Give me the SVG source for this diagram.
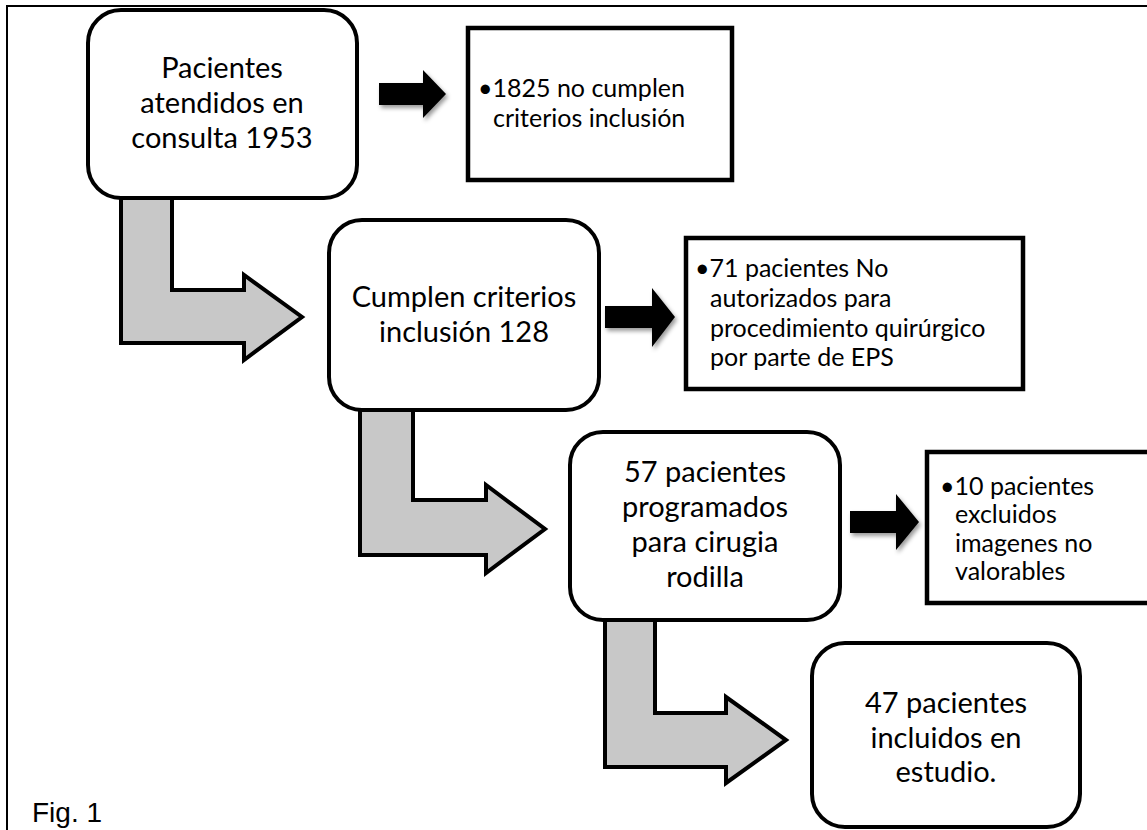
<svg xmlns="http://www.w3.org/2000/svg" width="1147" height="830" viewBox="0 0 1147 830">
<defs>
<style>
.frame{fill:none;stroke:#000;stroke-width:2}
.rbox{fill:#fff;stroke:#000;stroke-width:4}
.sbox{fill:#fff;stroke:#000;stroke-width:4.5}
.gray{fill:#c8c8c8;stroke:#000;stroke-width:4;stroke-linejoin:miter}
.blk{fill:#000;filter:url(#sh)}
.main{font-family:Lato,"Liberation Sans",sans-serif;font-size:29px;fill:#000;text-anchor:middle}
.small{font-family:Lato,"Liberation Sans",sans-serif;font-size:25px;fill:#000}
.cap{font-family:"Liberation Sans",Arial,sans-serif;font-size:28px;fill:#000}
</style>
<filter id="sh" x="-20%" y="-20%" width="150%" height="150%">
<feDropShadow dx="2" dy="3" stdDeviation="2" flood-color="#000" flood-opacity="0.4"/>
</filter>
</defs>
<rect width="1147" height="830" fill="#fff"/>
<path class="frame" d="M7,830 L7,6 L1147,6"/>

<g id="connectors">
<path class="gray" d="M121,198 L172,198 L172,290 L244,290 L244,275 L302,317 L244,360 L244,343 L121,343 Z"/>
<path class="gray" d="M360,410 L413,410 L413,500 L486,500 L486,485 L545,529 L486,573 L486,555 L360,555 Z"/>
<path class="gray" d="M605,620 L655,620 L655,713 L726,713 L726,697 L786,740 L726,783 L726,767 L605,767 Z"/>
<path class="blk" d="M379,83 L423,83 L423,70 L446,94 L423,118 L423,105 L379,105 Z"/>
<path class="blk" d="M605,306 L652,306 L652,288 L675,317 L652,347 L652,328 L605,328 Z"/>
<path class="blk" d="M850,511 L896,511 L896,494 L919,522 L896,550 L896,533 L850,533 Z"/>
</g>

<g id="n1">
<rect class="rbox" x="88" y="10" width="269" height="188" rx="33"/>
<text class="main" x="222" y="78">Pacientes</text>
<text class="main" x="222" y="113">atendidos en</text>
<text class="main" x="222" y="148">consulta 1953</text>
</g>

<g id="n2">
<rect class="sbox" x="468" y="28" width="264" height="152"/>
<text class="small" x="478" y="97">•1825 no cumplen</text>
<text class="small" x="493" y="127">criterios inclusión</text>
</g>

<g id="n3">
<rect class="rbox" x="329" y="220" width="270" height="190" rx="33"/>
<text class="main" x="464" y="307">Cumplen criterios</text>
<text class="main" x="464" y="342">inclusión 128</text>
</g>

<g id="n4">
<rect class="sbox" x="686" y="238" width="337" height="151"/>
<text class="small" x="695" y="277">•71 pacientes No</text>
<text class="small" x="710" y="307">autorizados para</text>
<text class="small" x="710" y="337">procedimiento quirúrgico</text>
<text class="small" x="710" y="366">por parte de EPS</text>
</g>

<g id="n5">
<rect class="rbox" x="570" y="432" width="270" height="188" rx="33"/>
<text class="main" x="705" y="482">57 pacientes</text>
<text class="main" x="705" y="517">programados</text>
<text class="main" x="705" y="552">para cirugia</text>
<text class="main" x="705" y="587">rodilla</text>
</g>

<g id="n6">
<rect class="sbox" x="927" y="452" width="240" height="151"/>
<text class="small" x="940" y="495">•10 pacientes</text>
<text class="small" x="955" y="523">excluidos</text>
<text class="small" x="955" y="552">imagenes no</text>
<text class="small" x="955" y="580">valorables</text>
</g>

<g id="n7">
<rect class="rbox" x="812" y="643" width="268" height="184" rx="33"/>
<text class="main" x="946" y="713">47 pacientes</text>
<text class="main" x="946" y="748">incluidos en</text>
<text class="main" x="946" y="782">estudio.</text>
</g>

<text class="cap" x="32" y="822">Fig. 1</text>
</svg>
